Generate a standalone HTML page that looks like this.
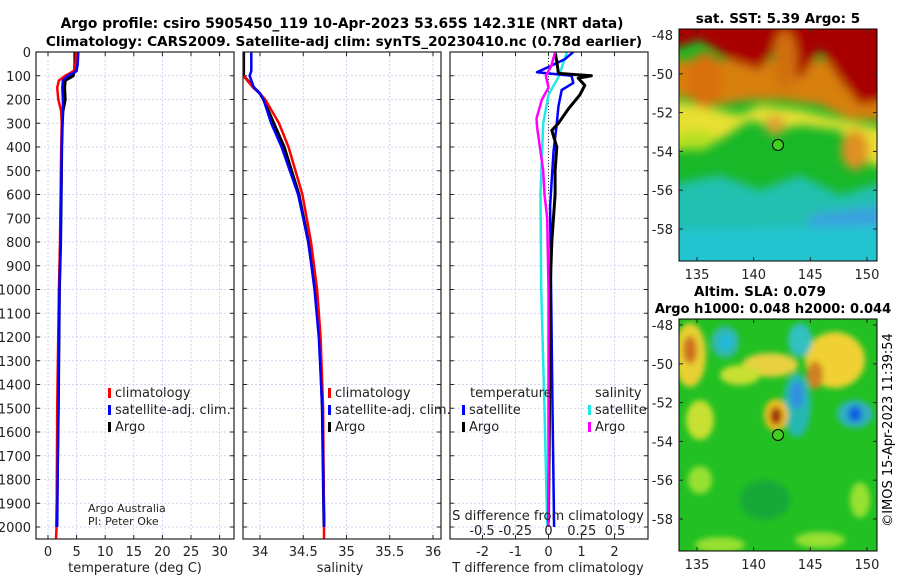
<!DOCTYPE html>
<html><head><meta charset="utf-8">
<style>
html,body{margin:0;padding:0;background:#fff;}
svg{display:block;font-family:"DejaVu Sans","Liberation Sans",sans-serif;}
</style></head>
<body>
<svg id="fig" width="900" height="580" viewBox="0 0 900 580" xmlns="http://www.w3.org/2000/svg">
<defs>
<clipPath id="c1"><rect x="36" y="52" width="198" height="487"/></clipPath>
<clipPath id="c2"><rect x="243" y="52" width="198" height="487"/></clipPath>
<clipPath id="c3"><rect x="450" y="52" width="198" height="487"/></clipPath>
<clipPath id="m1"><rect x="679" y="29" width="198" height="232"/></clipPath>
<clipPath id="m2"><rect x="679" y="319" width="198" height="232"/></clipPath>
<filter id="bl" x="-20%" y="-20%" width="140%" height="140%"><feGaussianBlur stdDeviation="5"/></filter>
<filter id="bl2" x="-20%" y="-20%" width="140%" height="140%"><feGaussianBlur stdDeviation="3"/></filter>
</defs>
<text x="342" y="28" text-anchor="middle" font-size="13.8" font-weight="bold">Argo profile: csiro 5905450_119 10-Apr-2023 53.65S 142.31E (NRT data)</text>
<text x="344" y="46" text-anchor="middle" font-size="13.6" font-weight="bold">Climatology: CARS2009. Satellite-adj clim: synTS_20230410.nc (0.78d earlier)</text>

<!-- maps -->
<g>
<text x="778" y="23" text-anchor="middle" font-size="13.5" font-weight="bold">sat. SST: 5.39 Argo: 5</text>
<g clip-path="url(#m1)">
<rect x="679" y="29" width="198" height="232" fill="#18b828"/>
<g filter="url(#bl)">
<polygon points="670,185 720,175 760,190 800,175 840,195 890,180 890,270 670,270" fill="#20c0b0"/>
<polygon points="810,215 890,205 890,270 800,270" fill="#3aa0e0"/>
<polygon points="670,230 890,225 890,270 670,270" fill="#20c4d0"/>
<polygon points="670,100 720,110 740,115 760,105 800,110 840,120 890,130 890,170 860,160 840,130 800,125 780,130 750,120 720,140 680,150 670,150" fill="#e8e030"/>
<polygon points="670,60 890,60 890,120 850,120 820,105 780,100 750,100 720,105 670,95" fill="#d88010"/>
<polygon points="670,20 890,20 890,100 860,105 840,80 820,50 800,80 780,40 760,70 730,60 700,40 670,50" fill="#a80000"/>
<ellipse cx="705" cy="80" rx="18" ry="28" fill="#d87010"/>
<ellipse cx="785" cy="60" rx="12" ry="30" fill="#d07010"/>
<ellipse cx="855" cy="150" rx="14" ry="20" fill="#e09020"/>
<ellipse cx="775" cy="125" rx="10" ry="10" fill="#e0a030"/>
<ellipse cx="695" cy="140" rx="20" ry="10" fill="#b8e020"/>
</g>
</g>
<rect x="679" y="29" width="198" height="232" fill="none" stroke="#000" stroke-width="1"/>
<circle cx="778" cy="145" r="5.5" fill="#40d020" stroke="#000"/>
</g>
<g>
<text x="760" y="296" text-anchor="middle" font-size="13.5" font-weight="bold">Altim. SLA: 0.079</text>
<text x="773" y="313" text-anchor="middle" font-size="13" font-weight="bold">Argo h1000: 0.048 h2000: 0.044</text>
<g clip-path="url(#m2)">
<rect x="679" y="319" width="198" height="232" fill="#22c022"/>
<g filter="url(#bl2)">
<ellipse cx="690" cy="355" rx="16" ry="32" fill="#e8d030"/>
<ellipse cx="690" cy="350" rx="7" ry="14" fill="#d07020"/>
<ellipse cx="835" cy="360" rx="30" ry="28" fill="#f0d030"/>
<ellipse cx="815" cy="375" rx="8" ry="14" fill="#d08020"/>
<ellipse cx="770" cy="365" rx="28" ry="12" fill="#e8d040"/>
<ellipse cx="740" cy="375" rx="20" ry="10" fill="#c8e030"/>
<ellipse cx="700" cy="420" rx="14" ry="20" fill="#c8e030"/>
<ellipse cx="725" cy="342" rx="14" ry="16" fill="#30b8b0"/>
<ellipse cx="726" cy="342" rx="6" ry="8" fill="#20b8e0"/>
<ellipse cx="800" cy="340" rx="12" ry="17" fill="#30c0c0"/>
<ellipse cx="797" cy="405" rx="14" ry="32" fill="#28b8b0"/>
<ellipse cx="797" cy="395" rx="7" ry="14" fill="#3090e0"/>
<ellipse cx="776" cy="415" rx="12" ry="16" fill="#f0c020"/>
<ellipse cx="776" cy="416" rx="6" ry="9" fill="#a03010"/>
<ellipse cx="855" cy="414" rx="18" ry="14" fill="#30b0c0"/>
<ellipse cx="855" cy="414" rx="7" ry="8" fill="#1060e0"/>
<ellipse cx="700" cy="480" rx="12" ry="14" fill="#98e030"/>
<ellipse cx="765" cy="500" rx="25" ry="20" fill="#18a838"/>
<ellipse cx="860" cy="500" rx="10" ry="18" fill="#98e030"/>
<ellipse cx="720" cy="545" rx="25" ry="8" fill="#98e030"/>
<ellipse cx="820" cy="540" rx="25" ry="8" fill="#98e030"/>
</g>
</g>
<rect x="679" y="319" width="198" height="232" fill="none" stroke="#000" stroke-width="1"/>
<circle cx="778" cy="435" r="5.5" fill="#40d020" stroke="#000"/>
</g>
<text transform="translate(892,430) rotate(-90)" text-anchor="middle" font-size="13">©IMOS 15-Apr-2023 11:39:54</text>

<g id="plots"></g>
</svg>
<script>
// ---- data ----
const tDepths = [0,50,80,100,120,150,200,250,300,400,600,800,1000,1500,2000];
const tArgo = [4.7,4.7,4.6,4.4,3.0,2.9,3.0,2.6,2.5,2.4,2.3,2.2,2.0,1.8,1.5];
const tClimDepths = [0,50,80,100,120,150,200,250,300,400,600,800,1000,1500,2000,2050];
const tClim = [4.9,4.8,4.5,3.0,1.9,1.6,1.8,2.3,2.4,2.3,2.2,2.1,1.9,1.6,1.5,1.4];
const tSat = [5.3,5.2,5.0,3.5,2.6,2.5,2.6,2.6,2.5,2.4,2.3,2.2,2.0,1.8,1.6];
const sDepths = [0,50,80,100,150,175,200,300,400,600,800,1000,1200,1500,2000];
const sArgo = [33.81,33.81,33.81,33.81,33.93,34.0,34.04,34.16,34.28,34.45,34.56,34.64,34.69,34.72,34.74];
const sClimDepths = [100,150,175,200,300,400,600,800,1000,1200,1500,2000,2050];
const sClim = [33.81,33.92,34.0,34.06,34.22,34.33,34.49,34.59,34.66,34.7,34.73,34.74,34.74];
const sSat = [33.9,33.9,33.9,33.88,33.93,34.0,34.04,34.13,34.25,34.44,34.56,34.63,34.68,34.72,34.74];
const dTArgoDepths = [0,40,90,100,110,140,180,240,300,330,400,500,600,800,1000,1500,1980];
const dTArgo = [0.2,0.25,0.3,1.3,0.9,1.1,0.95,0.6,0.3,0.1,0.25,0.2,0.2,0.1,0.05,0.03,0.0];
const dTSatDepths = [0,30,60,85,100,130,160,230,300,420,650,1000,1500,2000];
const dTSat = [0.75,0.5,0.05,-0.35,0.7,0.75,0.4,0.3,0.25,0.15,0.05,0.08,0.12,0.17];
const dSArgoDepths = [0,60,100,150,200,280,320,400,500,600,700,1000,1500,2000];
const dSArgo = [0.05,0.02,-0.02,0.0,-0.05,-0.09,-0.085,-0.065,-0.04,-0.03,-0.01,0.0,0.0,0.0];
const dSSatDepths = [0,30,100,180,300,600,1000,1500,2000];
const dSSat = [0.14,0.12,0.08,0.0,-0.04,-0.06,-0.055,-0.03,-0.01];
const depthTicks = [0,100,200,300,400,500,600,700,800,900,1000,1100,1200,1300,1400,1500,1600,1700,1800,1900,2000];
const tTicks = [0,5,10,15,20,25,30];
const sTicks = [34,34.5,35,35.5,36];
const dTTicks = [-2,-1,0,1,2];
const dSTickVals = [-0.5,-0.25,0,0.25,0.5];
const dSTickLabels = ["-0.5","-0.25","0","0.25","0.5"];
const latTicks = [-48,-50,-52,-54,-56,-58];
const lonTicks = [135,140,145,150];

// ---- scales ----
const NS='http://www.w3.org/2000/svg';
const yD = d => 52 + d*0.2375;
const x1 = v => 48 + v*5.72;
const x2 = v => 260 + (v-34)*86.5;
const x3 = v => 548.5 + v*33;
const x3s = v => 548.5 + v*133;
const lonX = v => 697 + (v-135)*11.33;
const latY1 = v => 35 + (-48 - v)*19.4;
const latY2 = v => 325 + (-48 - v)*19.4;
const root = document.getElementById('plots');
function mk(tag, attrs, parent){const e=document.createElementNS(NS,tag);for(const k in attrs)e.setAttribute(k,attrs[k]);(parent||root).appendChild(e);return e;}
function txt(x,y,s,size,anchor,parent){const t=mk('text',{x:x,y:y,'font-size':size,'text-anchor':anchor||'middle',fill:'#222'},parent);t.textContent=s;return t;}

function panel(name,x0,xs,ticks,labels,clip){
  const g=mk('g',{});
  
  
  const grid=mk('g',{stroke:'#c4c8ee','stroke-width':0.8,'stroke-dasharray':'2,2'},g);
  depthTicks.forEach(d=>mk('line',{x1:x0,x2:x0+198,y1:yD(d),y2:yD(d)},grid));
  ticks.forEach(v=>mk('line',{x1:xs(v),x2:xs(v),y1:52,y2:539},grid));
  const ax=mk('g',{stroke:'#222','stroke-width':1},g);
  depthTicks.forEach(d=>{mk('line',{x1:x0,x2:x0+4,y1:yD(d),y2:yD(d)},ax);mk('line',{x1:x0+198,x2:x0+194,y1:yD(d),y2:yD(d)},ax);});
  ticks.forEach((v,i)=>{mk('line',{x1:xs(v),x2:xs(v),y1:539,y2:535},ax);mk('line',{x1:xs(v),x2:xs(v),y1:52,y2:56},ax);
    const t=txt(xs(v),556,labels[i],13,'middle',g);
    
    });
  const lines=mk('g',{'clip-path':'url(#'+clip+')'},g);
  mk('rect',{x:x0,y:52,width:198,height:487,fill:'none',stroke:'#222','stroke-width':1.2},g);
  return lines;
}
function line(parent,depths,vals,xs,color,w,name){
  const pts=[];depths.forEach((d,i)=>{if(vals[i]!==null)pts.push(xs(vals[i]).toFixed(1)+','+yD(d).toFixed(1));});
  const p=mk('polyline',{points:pts.join(' '),fill:'none',stroke:color,'stroke-width':w,'stroke-linejoin':'round'},parent);
  
  
}
function legend(parent,x,y,items){
  items.forEach((it,i)=>{
    const yy=y+i*17;
    const b=mk('rect',{x:x,y:yy-9,width:3,height:10,fill:it[1]},parent);
    
    
    const t=txt(x+7,yy,it[0],13,'start',parent);
    
    
  });
}

// depth labels
depthTicks.forEach(d=>{const t=txt(31,yD(d)+5,String(d),13,'end');
  
  });

// panel 1
const p1=panel('temperature-panel',36,x1,tTicks,tTicks.map(String),'c1');
line(p1,tDepths,tArgo,x1,'#000',3,'temp-argo-line');
line(p1,tClimDepths,tClim,x1,'#f00',2.5,'temp-climatology-line');
line(p1,tDepths,tSat,x1,'#00f',2.5,'temp-satellite-line');
let t=txt(135,572,'temperature (deg C)',13);


legend(root,108,397,[['climatology','#f00'],['satellite-adj. clim.','#00f'],['Argo','#000']]);
t=txt(88,512,'Argo Australia',11,'start');


t=txt(88,525,'PI: Peter Oke',11,'start');



// panel 2
const p2=panel('salinity-panel',243,x2,sTicks,sTicks.map(String),'c2');
line(p2,sDepths,sArgo,x2,'#000',3,'sal-argo-line');
line(p2,sClimDepths,sClim,x2,'#f00',2.5,'sal-climatology-line');
line(p2,sDepths,sSat,x2,'#00f',2.5,'sal-satellite-line');
t=txt(340,572,'salinity',13);


legend(root,328,397,[['climatology','#f00'],['satellite-adj. clim.','#00f'],['Argo','#000']]);

// panel 3
const p3=panel('difference-panel',450,x3,dTTicks,dTTicks.map(String),'c3');
mk('line',{x1:x3(0),x2:x3(0),y1:52,y2:yD(600),stroke:'#444','stroke-width':1,'stroke-dasharray':'1,2'},p3);
line(p3,dSSatDepths,dSSat,x3s,'#20e8e8',2.5,'sal-diff-satellite-line');
line(p3,dTSatDepths,dTSat,x3,'#00f',2.5,'temp-diff-satellite-line');
line(p3,dTArgoDepths,dTArgo,x3,'#000',3,'temp-diff-argo-line');
line(p3,dSArgoDepths,dSArgo,x3s,'#f0f',2.5,'sal-diff-argo-line');
t=txt(548,572,'T difference from climatology',13);


t=txt(548,520,'S difference from climatology',13);


dSTickVals.forEach((v,i)=>{const q=txt(x3s(v),535,dSTickLabels[i],13);
  
  });
t=txt(470,397,'temperature',13,'start');


t=txt(595,397,'salinity',13,'start');


legend(root,462,414,[['satellite','#00f'],['Argo','#000']]);
legend(root,588,414,[['satellite','#20e8e8'],['Argo','#f0f']]);

// map axes
function mapAxes(name,top,latY){
  const g=mk('g',{stroke:'#222','stroke-width':1});
  
  
  latTicks.forEach(v=>{mk('line',{x1:679,x2:683,y1:latY(v),y2:latY(v)},g);mk('line',{x1:877,x2:873,y1:latY(v),y2:latY(v)},g);
    const q=txt(673,latY(v)+5,String(v),13,'end');
    
    });
  lonTicks.forEach(v=>{mk('line',{x1:lonX(v),x2:lonX(v),y1:top+232,y2:top+228},g);mk('line',{x1:lonX(v),x2:lonX(v),y1:top,y2:top+4},g);
    const q=txt(lonX(v),top+250,String(v),13);
    
    });
}
mapAxes('sst-map-axes',29,latY1);
mapAxes('sla-map-axes',319,latY2);
</script>
</body></html>
